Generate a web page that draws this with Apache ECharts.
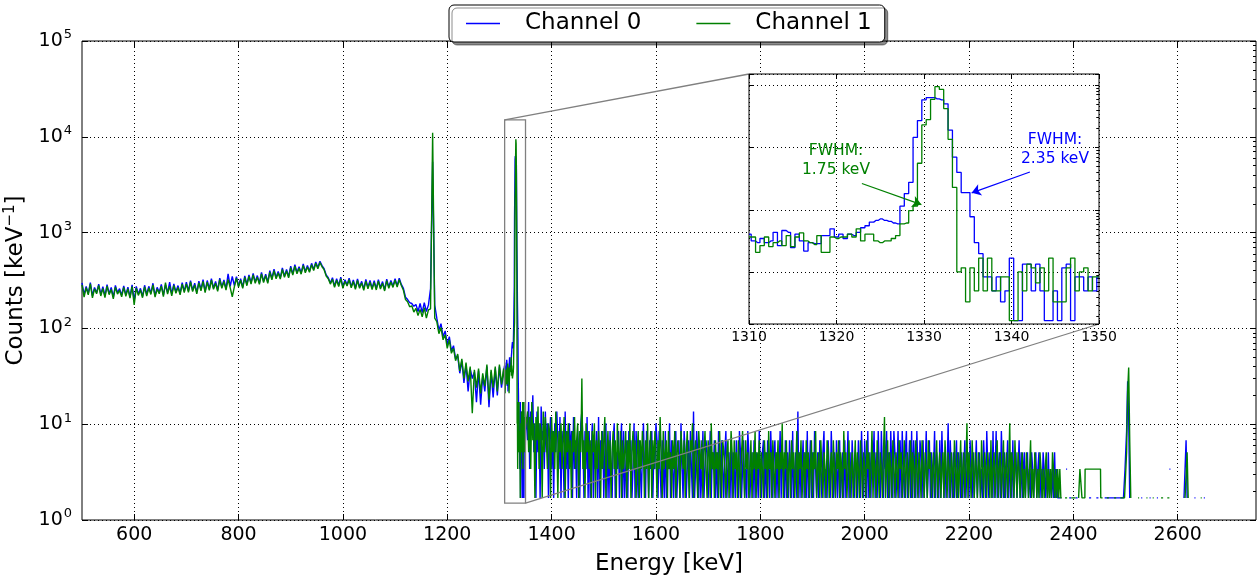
<!DOCTYPE html>
<html>
<head>
<meta charset="utf-8">
<script src="https://cdn.jsdelivr.net/npm/echarts@6/dist/echarts.min.js"></script>
<style>
html, body { margin: 0; padding: 0; background: #fff; }
#main { width: 1258px; height: 576px; }
</style>
</head>
<body>
<div id="main"></div>
<script>
// binning of the read-off stretches (keV)
var lowStart = 500, lowStep = 4;
var peakStart = 1310, peakStep = 0.5;
var highStart = 1352, highStep = 2;

// 500 - 1308 keV, counts / keV
var ch0Low = [
    298, 225, 274, 230, 301, 219, 268, 236, 290, 226,
    272, 218, 286, 230, 268, 212, 281, 236, 260, 222,
    278, 224, 270, 212, 285, 196, 274, 228, 262, 216,
    282, 226, 275, 232, 296, 220, 268, 238, 288, 222,
    284, 236, 304, 228, 292, 240, 280, 232, 301, 244,
    304, 246, 316, 250, 296, 238, 311, 255, 322, 244,
    316, 258, 331, 264, 309, 252, 334, 270, 321, 259,
    370, 275, 348, 280, 346, 278, 331, 270, 354, 287,
    362, 298, 376, 305, 356, 297, 385, 310, 369, 304,
    400, 332, 416, 340, 394, 337, 427, 351, 412, 347,
    446, 370, 462, 383, 441, 378, 471, 392, 454, 396,
    478, 413, 494, 432, 502, 452, 420, 362, 338, 298,
    338, 276, 330, 282, 343, 270, 322, 285, 334, 273,
    320, 264, 328, 270, 310, 258, 324, 267, 316, 263,
    314, 260, 323, 266, 308, 254, 327, 270, 317, 276,
    330, 278, 334, 288, 262, 212, 200, 186, 182, 170,
    178, 150, 182, 146, 186, 150, 176, 260, 5500, 175,
    128, 96, 112, 82, 94, 68, 82, 58, 66, 48,
    52, 34, 46, 27, 42, 22, 38, 30, 35, 17,
    36, 16, 32, 22, 40, 15, 35, 19, 38, 20,
    40, 24, 36
];
var ch1Low = [
    285, 212, 266, 224, 292, 208, 259, 230, 281, 218,
    262, 210, 277, 225, 255, 203, 270, 228, 249, 214,
    268, 216, 259, 207, 274, 176, 263, 221, 252, 209,
    271, 218, 264, 226, 285, 212, 258, 230, 276, 215,
    300, 228, 276, 219, 281, 233, 268, 224, 290, 236,
    292, 238, 305, 242, 284, 230, 299, 247, 310, 236,
    304, 250, 318, 256, 296, 244, 322, 262, 309, 251,
    325, 266, 214, 272, 334, 270, 318, 262, 341, 279,
    350, 290, 362, 296, 343, 288, 371, 301, 356, 295,
    386, 322, 401, 330, 379, 328, 412, 341, 398, 337,
    430, 360, 446, 372, 425, 368, 455, 381, 438, 385,
    462, 402, 478, 420, 488, 440, 410, 352, 330, 290,
    326, 268, 318, 274, 331, 262, 311, 277, 322, 265,
    309, 256, 316, 262, 298, 250, 312, 259, 304, 255,
    302, 252, 311, 258, 296, 246, 315, 262, 305, 268,
    318, 270, 322, 280, 250, 200, 190, 168, 172, 148,
    162, 136, 158, 132, 165, 128, 156, 160, 11000, 128,
    118, 88, 102, 76, 86, 62, 76, 55, 62, 46,
    54, 36, 48, 30, 44, 28, 40, 13, 37, 24,
    38, 21, 34, 25, 42, 18, 37, 24, 40, 22,
    42, 26, 38
];

// 1310 - 1350 keV (also the inset)
var ch0Peak = [
    41, 32, 30, 35, 30, 32, 44, 27, 47, 44,
    25, 41, 32, 22, 30, 29, 29, 39, 39, 50,
    37, 41, 35, 41, 39, 44, 52, 56, 64, 68,
    72, 68, 66, 62, 60, 115, 183, 277, 1450, 2700,
    5800, 6300, 6300, 6000, 5800, 5000, 1900, 700, 400, 190,
    190, 78, 30, 20, 8.5, 8.5, 5.1, 8.5, 3.4, 5.1,
    17, 1.7, 1.7, 13.6, 13.6, 5.1, 13.6, 5.1, 1.7, 1.7,
    5.1, 1.7, 11.9, 13.6, 1.7, 8.5, 8.5, 5.1, 8.5, 5.1, 8.5
];
var ch1Peak = [
    37, 37, 21, 27, 37, 26, 30, 32, 27, 39,
    26, 37, 43, 32, 30, 28, 39, 21, 21, 37,
    35, 37, 37, 41, 37, 50, 32, 41, 41, 32,
    30, 32, 32, 35, 39, 60, 62, 98, 115, 560,
    2300, 2800, 5900, 9400, 8500, 4200, 1350, 230, 10.2, 11.9,
    3.4, 11.9, 5.1, 17, 5.1, 17, 5.1, 5.1, 8.5, 8.5,
    1.7, 1.7, 10.2, 5.1, 13.6, 11.9, 6.8, 11.9, 5.1, 17,
    3.4, 3.4, 3.4, 11.9, 17, 5.1, 10.2, 11.9, 5.1, 8.5, 8.5
];

// 1352 - 2370 keV
var ch0High = [
    11.9, 6.8, 17, 3.4, 13.6, 8.5, 20, 5.1, 10.2, 1.7,
    13.6, 5.1, 10.2, 1.7, 15.3, 6.8, 8.5, 3.4, 13.6, 5.1,
    10.2, 1.7, 6.8, 11.9, 3.4, 8.5, 1.7, 10.2, 5.1, 13.6,
    6.8, 3.4, 11.9, 1.7, 8.5, 5.1, 1.7, 13.6, 3.4, 8.5,
    1.7, 10.2, 5.1, 8.5, 1.7, 11.9, 3.4, 6.8, 1.7, 8.5,
    5.1, 1.7, 10.2, 13.6, 6.8, 1.7, 8.5, 3.4, 11.9, 1.7,
    8.5, 1.7, 5.1, 10.2, 1.7, 6.8, 3.4, 8.5, 1.7, 11.9,
    1.7, 6.8, 3.4, 8.5, 1.7, 5.1, 10.2, 1.7, 6.8, 1.7,
    8.5, 3.4, 1.7, 6.8, 10.2, 1.7, 5.1, 3.4, 8.5, 1.7,
    5.1, 10.2, 1.7, 8.5, 1.7, 3.4, 6.8, 1.7, 8.5, 5.1,
    6.8, 1.7, 3.4, 10.2, 1.7, 8.5, 3.4, 1.7, 6.8, 3.4,
    1.7, 5.1, 10.2, 3.4, 1.7, 8.5, 5.1, 1.7, 6.8, 3.4,
    8.5, 1.7, 5.1, 3.4, 10.2, 6.8, 1.7, 8.5, 3.4, 1.7,
    6.8, 3.4, 1.7, 8.5, 1.7, 5.1, 3.4, 10.2, 1.7, 6.8,
    3.4, 1.7, 5.1, 8.5, 1.7, 3.4, 6.8, 1.7, 10.2, 3.4,
    1.7, 8.5, 5.1, 1.7, 3.4, 6.8, 1.7, 8.5, 3.4, 1.7,
    13.6, 1.7, 3.4, 8.5, 5.1, 1.7, 6.8, 1.7, 3.4, 8.5,
    1.7, 3.4, 6.8, 5.1, 1.7, 3.4, 8.5, 1.7, 5.1, 3.4,
    6.8, 1.7, 5.1, 1.7, 8.5, 3.4, 1.7, 6.8, 3.4, 1.7,
    5.1, 8.5, 1.7, 3.4, 5.1, 1.7, 6.8, 1.7, 5.1, 3.4,
    1.7, 6.8, 3.4, 1.7, 8.5, 5.1, 1.7, 3.4, 6.8, 1.7,
    3.4, 1.7, 8.5, 5.1, 1.7, 3.4, 5.1, 1.7, 6.8, 1.7,
    5.1, 3.4, 1.7, 8.5, 3.4, 1.7, 5.1, 6.8, 1.7, 5.1,
    1.7, 6.8, 3.4, 1.7, 8.5, 3.4, 1.7, 5.1, 6.8, 1.7,
    5.1, 1.7, 3.4, 8.5, 1.7, 5.1, 3.4, 1.7, 6.8, 1.7,
    5.1, 1.7, 6.8, 3.4, 1.7, 8.5, 1.7, 3.4, 5.1, 1.7,
    13.6, 1.7, 5.1, 1.7, 3.4, 6.8, 1.7, 5.1, 1.7, 8.5,
    1.7, 3.4, 6.8, 1.7, 5.1, 1.7, 8.5, 3.4, 1.7, 5.1,
    1.7, 6.8, 3.4, 1.7, 5.1, 8.5, 1.7, 3.4, 1.7, 6.8,
    3.4, 1.7, 8.5, 3.4, 1.7, 5.1, 1.7, 6.8, 1.7, 3.4,
    6.8, 1.7, 3.4, 5.1, 1.7, 6.8, 1.7, 3.4, 8.5, 1.7,
    5.1, 1.7, 6.8, 3.4, 1.7, 5.1, 3.4, 1.7, 6.8, 3.4,
    1.7, 8.5, 3.4, 1.7, 6.8, 3.4, 1.7, 8.5, 1.7, 5.1,
    1.7, 6.8, 3.4, 8.5, 1.7, 5.1, 1.7, 8.5, 3.4, 1.7,
    8.5, 3.4, 1.7, 6.8, 3.4, 8.5, 1.7, 5.1, 1.7, 8.5,
    3.4, 1.7, 8.5, 5.1, 1.7, 3.4, 8.5, 1.7, 6.8, 1.7,
    8.5, 3.4, 1.7, 5.1, 8.5, 1.7, 3.4, 6.8, 1.7, 8.5,
    1.7, 6.8, 3.4, 1.7, 8.5, 3.4, 1.7, 6.8, 5.1, 1.7,
    6.8, 1.7, 3.4, 8.5, 1.7, 3.4, 6.8, 1.7, 5.1, 1.7,
    3.4, 8.5, 1.7, 5.1, 3.4, 1.7, 6.8, 1.7, 8.5, 3.4,
    1.7, 5.1, 1.7, 3.4, 10.2, 1.7, 6.8, 3.4, 1.7, 5.1,
    1.7, 3.4, 6.8, 1.7, 5.1, 3.4, 1.7, 5.1, 1.7, 3.4,
    6.8, 1.7, 3.4, 5.1, 1.7, 6.8, 3.4, 1.7, 5.1, 1.7,
    3.4, 6.8, 1.7, 3.4, 5.1, 1.7, 3.4, 1.7, 6.8, 3.4,
    1.7, 8.5, 3.4, 1.7, 5.1, 3.4, 1.7, 8.5, 1.7, 3.4,
    8.5, 1.7, 3.4, 5.1, 1.7, 8.5, 3.4, 1.7, 5.1, 1.7,
    3.4, 6.8, 1.7, 3.4, 5.1, 1.7, 6.8, 1.7, 3.4, 5.1,
    1.7, 3.4, 6.8, 1.7, 5.1, 1.7, 3.4, 5.1, 1.7, 3.4,
    5.1, 1.7, 3.4, 1.7, 5.1, 3.4, 1.7, 3.4, 5.1, 1.7,
    3.4, 5.1, 1.7, 3.4, 1.7, 5.1, 3.4, 1.7, 3.4, 1.7,
    5.1, 1.7, 3.4, 1.7, 3.4, 1.7, 5.1, 1.7, 3.4, 1.7
];
var ch1High = [
    8.5, 13.6, 5.1, 11.9, 3.4, 17, 6.8, 10.2, 1.7, 11.9,
    6.8, 15.3, 3.4, 10.2, 8.5, 1.7, 13.6, 5.1, 11.9, 6.8,
    3.4, 10.2, 8.5, 1.7, 11.9, 5.1, 8.5, 3.4, 13.6, 6.8,
    1.7, 8.5, 5.1, 10.2, 3.4, 6.8, 11.9, 1.7, 8.5, 5.1,
    10.2, 3.4, 6.8, 1.7, 8.5, 5.1, 11.9, 3.4, 6.8, 10.2,
    1.7, 8.5, 5.1, 30, 3.4, 6.8, 1.7, 10.2, 5.1, 8.5,
    3.4, 6.8, 1.7, 8.5, 5.1, 10.2, 1.7, 6.8, 3.4, 8.5,
    5.1, 1.7, 8.5, 3.4, 6.8, 11.9, 1.7, 5.1, 8.5, 3.4,
    6.8, 1.7, 5.1, 8.5, 3.4, 6.8, 1.7, 10.2, 5.1, 3.4,
    8.5, 1.7, 6.8, 3.4, 5.1, 8.5, 1.7, 6.8, 3.4, 10.2,
    1.7, 5.1, 8.5, 3.4, 6.8, 1.7, 5.1, 8.5, 1.7, 6.8,
    3.4, 8.5, 5.1, 1.7, 6.8, 3.4, 10.2, 1.7, 5.1, 8.5,
    1.7, 6.8, 3.4, 8.5, 5.1, 1.7, 6.8, 3.4, 11.9, 5.1,
    1.7, 8.5, 3.4, 5.1, 6.8, 1.7, 8.5, 3.4, 5.1, 1.7,
    6.8, 3.4, 8.5, 1.7, 5.1, 6.8, 3.4, 1.7, 8.5, 5.1,
    3.4, 6.8, 1.7, 5.1, 8.5, 3.4, 1.7, 6.8, 5.1, 10.2,
    1.7, 5.1, 6.8, 3.4, 1.7, 8.5, 5.1, 3.4, 6.8, 1.7,
    5.1, 8.5, 3.4, 1.7, 6.8, 5.1, 1.7, 10.2, 3.4, 5.1,
    1.7, 6.8, 3.4, 5.1, 1.7, 8.5, 3.4, 1.7, 6.8, 5.1,
    3.4, 1.7, 5.1, 6.8, 1.7, 3.4, 8.5, 5.1, 1.7, 6.8,
    3.4, 5.1, 1.7, 6.8, 3.4, 1.7, 5.1, 8.5, 3.4, 1.7,
    6.8, 3.4, 5.1, 1.7, 3.4, 6.8, 1.7, 5.1, 3.4, 8.5,
    1.7, 5.1, 3.4, 6.8, 1.7, 5.1, 3.4, 1.7, 6.8, 3.4,
    5.1, 1.7, 8.5, 3.4, 5.1, 1.7, 6.8, 3.4, 1.7, 5.1,
    3.4, 6.8, 1.7, 5.1, 3.4, 10.2, 1.7, 5.1, 3.4, 6.8,
    1.7, 3.4, 5.1, 1.7, 6.8, 3.4, 5.1, 1.7, 3.4, 8.5,
    1.7, 5.1, 3.4, 6.8, 1.7, 3.4, 5.1, 1.7, 6.8, 3.4,
    5.1, 1.7, 3.4, 6.8, 1.7, 5.1, 3.4, 8.5, 1.7, 3.4,
    5.1, 1.7, 6.8, 3.4, 1.7, 5.1, 3.4, 1.7, 6.8, 5.1,
    1.7, 3.4, 5.1, 1.7, 6.8, 3.4, 1.7, 5.1, 3.4, 6.8,
    1.7, 5.1, 3.4, 1.7, 8.5, 3.4, 5.1, 1.7, 3.4, 6.8,
    1.7, 3.4, 5.1, 1.7, 3.4, 6.8, 1.7, 5.1, 3.4, 1.7,
    6.8, 3.4, 1.7, 5.1, 3.4, 1.7, 6.8, 3.4, 5.1, 1.7,
    3.4, 8.5, 1.7, 5.1, 3.4, 1.7, 6.8, 3.4, 1.7, 5.1,
    3.4, 1.7, 5.1, 11.9, 1.7, 3.4, 6.8, 1.7, 5.1, 3.4,
    1.7, 6.8, 3.4, 1.7, 5.1, 3.4, 1.7, 6.8, 3.4, 5.1,
    1.7, 3.4, 6.8, 1.7, 3.4, 5.1, 1.7, 3.4, 6.8, 1.7,
    5.1, 3.4, 1.7, 6.8, 3.4, 1.7, 5.1, 3.4, 1.7, 6.8,
    3.4, 1.7, 5.1, 3.4, 1.7, 6.8, 3.4, 5.1, 1.7, 3.4,
    5.1, 1.7, 3.4, 6.8, 1.7, 3.4, 5.1, 1.7, 3.4, 5.1,
    1.7, 6.8, 3.4, 1.7, 5.1, 3.4, 1.7, 5.1, 3.4, 1.7,
    6.8, 3.4, 1.7, 5.1, 1.7, 3.4, 6.8, 1.7, 3.4, 5.1,
    1.7, 3.4, 10.2, 1.7, 5.1, 3.4, 1.7, 6.8, 3.4, 1.7,
    5.1, 3.4, 1.7, 5.1, 3.4, 1.7, 6.8, 3.4, 1.7, 5.1,
    3.4, 1.7, 5.1, 3.4, 1.7, 6.8, 1.7, 3.4, 5.1, 1.7,
    3.4, 6.8, 1.7, 3.4, 5.1, 1.7, 3.4, 6.8, 1.7, 3.4,
    5.1, 1.7, 3.4, 10.2, 1.7, 5.1, 3.4, 1.7, 6.8, 3.4,
    1.7, 5.1, 3.4, 1.7, 3.4, 5.1, 1.7, 3.4, 1.7, 5.1,
    3.4, 1.7, 3.4, 6.8, 1.7, 3.4, 1.7, 5.1, 3.4, 1.7,
    3.4, 1.7, 5.1, 3.4, 1.7, 3.4, 1.7, 3.4, 5.1, 1.7,
    3.4, 1.7, 3.4, 1.7, 5.1, 3.4, 1.7, 3.4, 1.7, 3.4
];

// sparse tail above 2370 keV, [energy, counts / keV], null = empty bin
var ch0Tail = [
    [2372, 1.7], [2376, 1.7], [2378, null],
    [2386, 3.4], [2388, 3.4], [2389, null],
    [2392, 1.7], [2396, 1.7], [2398, null],
    [2404, 1.7], [2408, 1.7], [2410, null],
    [2430, 1.7], [2434, 1.7], [2436, null],
    [2444, 1.7], [2448, 1.7], [2450, null],
    [2460, 1.7], [2464, 1.7], [2468, 1.7], [2472, 1.7], [2476, 1.7], [2480, 1.7],
    [2484, 1.7], [2488, 1.7], [2492, 1.7], [2496, 1.7], [2499, 3.4], [2502, 8.5],
    [2504, 28], [2506, 12], [2508, 1.7], [2510, null],
    [2530, 1.7], [2532, 1.7], [2533, null],
    [2546, 1.7], [2548, 1.7], [2549, null],
    [2560, 1.7], [2562, 1.7], [2563, null],
    [2584, 3.4], [2586, 3.4], [2587, null],
    [2612, 1.7], [2616, 6.8], [2618, 1.7], [2620, null],
    [2632, 1.7], [2634, 1.7], [2635, null],
    [2650, 1.7], [2652, 1.7]
];
var ch1Tail = [
    [2372, 1.7], [2374, 3.4], [2376, 1.7], [2378, 1.7], [2380, null],
    [2384, 1.7], [2388, 1.7], [2390, null],
    [2396, 1.7], [2400, 1.7], [2404, 1.7], [2406, null],
    [2410, 1.7], [2412, 1.7], [2412.5, 3.4], [2416, 3.4], [2416.5, 1.7], [2422, 1.7], [2422.5, 3.4],
    [2434, 3.4], [2446, 3.4], [2452, 3.4], [2452.5, 1.7], [2456, 1.7], [2458, null],
    [2464, 1.7], [2468, 1.7], [2470, null],
    [2478, 1.7], [2482, 1.7], [2484, null],
    [2490, 1.7], [2494, 1.7], [2498, 1.7], [2502, 5.1], [2504, 22], [2506, 39],
    [2508, 6.8], [2510, 1.7], [2512, null],
    [2524, 1.7], [2526, 1.7], [2527, null],
    [2540, 1.7], [2542, 1.7], [2543, null],
    [2552, 1.7], [2554, 1.7], [2555, null],
    [2568, 1.7], [2572, 1.7], [2574, null],
    [2580, 1.7], [2584, 1.7], [2586, null],
    [2614, 1.7], [2618, 5.1], [2620, 1.7], [2622, null],
    [2644, 1.7], [2646, 1.7]
];

var energyTicks = [600, 800, 1000, 1200, 1400, 1600, 1800, 2000, 2200, 2400, 2600];
var minorCounts = [
    2, 3, 4, 5, 6, 7, 8, 9, 20, 30, 40, 50, 60, 70, 80, 90,
    200, 300, 400, 500, 600, 700, 800, 900, 2000, 3000, 4000, 5000, 6000, 7000, 8000, 9000,
    20000, 30000, 40000, 50000, 60000, 70000, 80000, 90000
];
// zoomed window: energy and counts range
var insetBox = { x0: 1310, x1: 1350, y0: 1.5, y1: 15000 };
// FWHM arrows: [from, to] in inset data coords
var arrow0 = [[1342.1, 405], [1335.45, 188]];
var arrow1 = [[1322.9, 265], [1329.7, 122]];

var blue = '#0000ff', green = '#008000';
var font = 'DejaVu Sans';
var dotted = { color: '#000', width: 1, type: [1, 3] };

function bins(start, step, values) {
    return values.map(function (v, i) { return [start + i * step, v]; });
}
var ch0 = bins(lowStart, lowStep, ch0Low).concat(bins(peakStart, peakStep, ch0Peak), bins(highStart, highStep, ch0High), ch0Tail);
var ch1 = bins(lowStart, lowStep, ch1Low).concat(bins(peakStart, peakStep, ch1Peak), bins(highStart, highStep, ch1High), ch1Tail);

// axes that only carry ticks (mirrored sides, minor ticks)
function tickAxis(base) {
    var ax = {
        axisLine: { show: false },
        axisLabel: { show: false },
        splitLine: { show: false }
    };
    for (var k in base) ax[k] = base[k];
    return ax;
}

var myChart = echarts.init(document.getElementById('main'));

var option = {
    animation: false,
    legend: {
        left: 449,
        top: 5,
        data: ['Channel 0', 'Channel 1'],
        icon: 'rect',
        itemWidth: 34,
        itemHeight: 1.5,
        itemGap: 55,
        padding: [7, 13, 7, 17],
        borderColor: '#000',
        borderWidth: 1,
        borderRadius: 5,
        backgroundColor: '#fff',
        shadowColor: 'rgba(0,0,0,0.45)',
        shadowBlur: 0,
        shadowOffsetX: 3,
        shadowOffsetY: 3,
        selectedMode: false,
        formatter: function (name) { return '{t|' + name + '}'; },
        textStyle: {
            color: '#000', fontSize: 23, fontFamily: font,
            rich: { t: { fontSize: 23, fontFamily: font, color: '#000', padding: [0, 0, 0, 20] } }
        }
    },
    grid: [
        { left: 82, top: 41, width: 1174, height: 479, show: true, borderColor: '#000', borderWidth: 1,
          backgroundColor: 'transparent', outerBoundsMode: 'none' },
        { left: 749, top: 74, width: 350, height: 250, show: true, borderColor: '#000', borderWidth: 1,
          backgroundColor: '#fff', z: 10, outerBoundsMode: 'none' }
    ],
    xAxis: [
        {
            type: 'value', gridIndex: 0, min: 500, max: 2750, interval: 100,
            name: 'Energy [keV]', nameLocation: 'middle', nameGap: 33,
            nameTextStyle: { fontSize: 23, color: '#000', fontFamily: font },
            axisLine: { show: false },
            splitLine: { show: false },
            axisTick: { inside: true, length: 6, customValues: energyTicks, lineStyle: { color: '#000' } },
            axisLabel: {
                customValues: energyTicks, fontSize: 19, color: '#000', fontFamily: font, margin: 6,
                formatter: function (v) { return energyTicks.indexOf(v) >= 0 ? String(v) : ''; }
            }
        },
        tickAxis({ type: 'value', gridIndex: 0, min: 500, max: 2750, interval: 100, position: 'top',
            axisTick: { inside: true, length: 6, customValues: energyTicks, lineStyle: { color: '#000' } } }),
        {
            type: 'value', gridIndex: 1, min: insetBox.x0, max: insetBox.x1, interval: 10, z: 11,
            axisLine: { show: false },
            splitLine: { show: true, lineStyle: dotted },
            axisTick: { inside: true, length: 4, lineStyle: { color: '#000' } },
            axisLabel: { fontSize: 14, color: '#000', fontFamily: font, margin: 6,
                formatter: function (v) { return String(v); } }
        },
        tickAxis({ type: 'value', gridIndex: 1, min: insetBox.x0, max: insetBox.x1, interval: 10, position: 'top', z: 11,
            axisTick: { inside: true, length: 4, lineStyle: { color: '#000' } } })
    ],
    yAxis: [
        {
            type: 'log', logBase: 10, gridIndex: 0, min: 1, max: 100000,
            name: 'Counts [keV{s|\u22121}]', nameLocation: 'middle', nameGap: 50, nameRotate: 90,
            nameTextStyle: {
                fontSize: 23, color: '#000', fontFamily: font,
                rich: { s: { fontSize: 15, fontFamily: font, color: '#000', padding: [0, 0, 12, 0] } }
            },
            axisLine: { show: false },
            axisTick: { inside: true, length: 6, lineStyle: { color: '#000' } },
            splitLine: { show: true, lineStyle: dotted },
            axisLabel: {
                margin: 10, color: '#000',
                formatter: function (v) { return '{b|10}{s|' + Math.round(Math.log10(v)) + '}'; },
                rich: {
                    b: { fontSize: 19, fontFamily: font, color: '#000' },
                    s: { fontSize: 13, fontFamily: font, color: '#000', padding: [0, 0, 12, 1] }
                }
            }
        },
        tickAxis({ type: 'log', gridIndex: 0, min: 1, max: 100000,
            axisTick: { inside: true, length: 3, customValues: minorCounts, lineStyle: { color: '#000' } } }),
        tickAxis({ type: 'log', gridIndex: 0, min: 1, max: 100000, position: 'right',
            axisTick: { inside: true, length: 6, lineStyle: { color: '#000' } } }),
        tickAxis({ type: 'log', gridIndex: 0, min: 1, max: 100000, position: 'right',
            axisTick: { inside: true, length: 3, customValues: minorCounts, lineStyle: { color: '#000' } } }),
        {
            type: 'log', logBase: 10, gridIndex: 1, min: insetBox.y0, max: insetBox.y1, z: 11,
            axisLine: { show: false },
            axisLabel: { show: false },
            splitLine: { show: true, lineStyle: dotted },
            axisTick: { inside: true, length: 4, lineStyle: { color: '#000' } }
        },
        tickAxis({ type: 'log', gridIndex: 1, min: insetBox.y0, max: insetBox.y1, z: 11,
            axisTick: { inside: true, length: 2.5, customValues: minorCounts, lineStyle: { color: '#000' } } }),
        tickAxis({ type: 'log', gridIndex: 1, min: insetBox.y0, max: insetBox.y1, position: 'right', z: 11,
            axisTick: { inside: true, length: 4, lineStyle: { color: '#000' } } }),
        tickAxis({ type: 'log', gridIndex: 1, min: insetBox.y0, max: insetBox.y1, position: 'right', z: 11,
            axisTick: { inside: true, length: 2.5, customValues: minorCounts, lineStyle: { color: '#000' } } })
    ],
    series: [
        {
            // vertical grid lines of the main plot
            type: 'line', xAxisIndex: 0, yAxisIndex: 0, data: [], z: 1, silent: true,
            markLine: {
                silent: true, symbol: ['none', 'none'], label: { show: false }, z: 1,
                lineStyle: dotted, animation: false,
                data: energyTicks.map(function (v) { return { xAxis: v }; })
            }
        },
        {
            name: 'Channel 0', type: 'line', xAxisIndex: 0, yAxisIndex: 0, data: ch0,
            showSymbol: false, z: 2,
            lineStyle: { color: blue, width: 1.4 }, itemStyle: { color: blue }
        },
        {
            name: 'Channel 1', type: 'line', xAxisIndex: 0, yAxisIndex: 0, data: ch1,
            showSymbol: false, z: 2,
            lineStyle: { color: green, width: 1.4 }, itemStyle: { color: green }
        },
        {
            name: 'Channel 0', type: 'line', xAxisIndex: 2, yAxisIndex: 4,
            data: bins(peakStart, peakStep, ch0Peak),
            step: 'middle', showSymbol: false, z: 12,
            lineStyle: { color: blue, width: 1.3 }, itemStyle: { color: blue },
            markLine: {
                silent: true, symbol: ['none', 'arrow'], symbolSize: 9, label: { show: false }, z: 13,
                lineStyle: { color: blue, width: 1.2, type: 'solid', curveness: 0.25 },
                data: [[{ coord: arrow0[0] }, { coord: arrow0[1] }]]
            }
        },
        {
            name: 'Channel 1', type: 'line', xAxisIndex: 2, yAxisIndex: 4,
            data: bins(peakStart, peakStep, ch1Peak),
            step: 'middle', showSymbol: false, z: 12,
            lineStyle: { color: green, width: 1.3 }, itemStyle: { color: green },
            markLine: {
                silent: true, symbol: ['none', 'arrow'], symbolSize: 9, label: { show: false }, z: 13,
                lineStyle: { color: green, width: 1.2, type: 'solid', curveness: -0.25 },
                data: [[{ coord: arrow1[0] }, { coord: arrow1[1] }]]
            }
        }
    ]
};
myChart.setOption(option);

// zoom box and connector lines of the inset
var mainTL = myChart.convertToPixel({ xAxisIndex: 0, yAxisIndex: 0 }, [insetBox.x0, insetBox.y1]);
var mainBR = myChart.convertToPixel({ xAxisIndex: 0, yAxisIndex: 0 }, [insetBox.x1, insetBox.y0]);
var insetTL = myChart.convertToPixel({ xAxisIndex: 2, yAxisIndex: 4 }, [insetBox.x0, insetBox.y1]);
var insetBR = myChart.convertToPixel({ xAxisIndex: 2, yAxisIndex: 4 }, [insetBox.x1, insetBox.y0]);
var grey = { stroke: '#808080', lineWidth: 1.3, fill: null };
myChart.setOption({
    graphic: [
        { type: 'rect', z: 5, silent: true,
          shape: { x: mainTL[0], y: mainTL[1], width: mainBR[0] - mainTL[0], height: mainBR[1] - mainTL[1] },
          style: grey },
        { type: 'line', z: 5, silent: true,
          shape: { x1: mainTL[0], y1: mainTL[1], x2: insetTL[0], y2: insetTL[1] }, style: grey },
        { type: 'line', z: 5, silent: true,
          shape: { x1: mainBR[0], y1: mainBR[1], x2: insetBR[0], y2: insetBR[1] }, style: grey },
        { type: 'text', z: 20, silent: true, x: 836, y: 141,
          style: { text: 'FWHM:\n1.75 keV', fill: green, font: '15.5px "DejaVu Sans"', align: 'center', textAlign: 'center', lineHeight: 19 } },
        { type: 'text', z: 20, silent: true, x: 1055, y: 130,
          style: { text: 'FWHM:\n2.35 keV', fill: blue, font: '15.5px "DejaVu Sans"', align: 'center', textAlign: 'center', lineHeight: 19 } }
    ]
});
</script>
</body>
</html>
